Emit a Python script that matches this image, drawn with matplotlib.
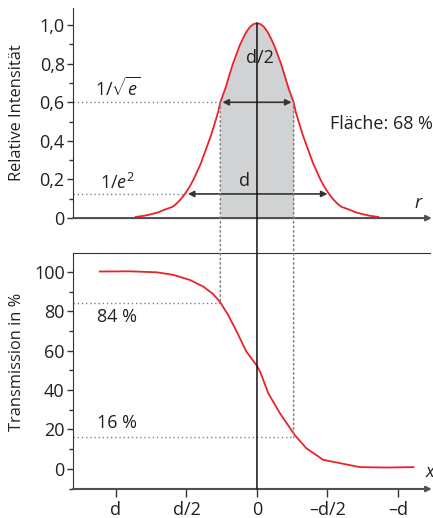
import matplotlib
matplotlib.use('Agg')
import matplotlib.pyplot as plt
from matplotlib.patches import ConnectionPatch
from matplotlib.ticker import MultipleLocator

plt.rcParams['font.family'] = ['Open Sans', 'DejaVu Sans']
plt.rcParams['mathtext.fontset'] = 'custom'
plt.rcParams['mathtext.rm'] = 'Open Sans'
plt.rcParams['mathtext.it'] = 'Open Sans:italic'

# positions in units of d/2 (left = +d side of the drawing)
gauss_x = [-1.72, -1.6, -1.5, -1.4, -1.3, -1.2, -1.15, -1.1, -1.05, -1.0, -0.95, -0.9, -0.85,
           -0.8, -0.75, -0.7, -0.65, -0.6, -0.55, -0.52, -0.45, -0.4, -0.35, -0.3, -0.25,
           -0.2, -0.15, -0.1, -0.05, 0.0, 0.05, 0.1, 0.15, 0.2, 0.25, 0.3, 0.35, 0.4, 0.45,
           0.52, 0.55, 0.6, 0.65, 0.7, 0.75, 0.8, 0.85, 0.9, 0.95, 1.0, 1.05, 1.1, 1.15,
           1.2, 1.3, 1.4, 1.5, 1.6, 1.72]
gauss_y = [0.006, 0.012, 0.02, 0.03, 0.045, 0.058, 0.072, 0.09, 0.111, 0.137, 0.166, 0.20, 0.24,
           0.28, 0.33, 0.38, 0.43, 0.49, 0.55, 0.60, 0.67, 0.73, 0.79, 0.84, 0.89,
           0.93, 0.965, 0.99, 1.005, 1.01, 1.005, 0.99, 0.965, 0.93, 0.89, 0.84, 0.79, 0.73, 0.67,
           0.60, 0.55, 0.49, 0.43, 0.38, 0.33, 0.28, 0.24, 0.20, 0.166, 0.137, 0.111, 0.09, 0.072,
           0.058, 0.045, 0.03, 0.02, 0.012, 0.006]

trans_x = [-2.23, -1.80, -1.42, -1.19, -0.95, -0.76, -0.62, -0.52, -0.41, -0.29, -0.15,
           0.0, 0.05, 0.16, 0.33, 0.54, 0.70, 0.94, 1.18, 1.46, 1.84, 2.22]
trans_y = [100.2, 100.3, 99.8, 98.5, 95.9, 92.5, 88.7, 84.5, 78.2, 69.9, 59.5,
           52.3, 48.9, 38.4, 28.0, 17.0, 10.5, 4.6, 2.9, 0.9, 0.7, 0.9]

x_ticks = [-2, -1, 0, 1, 2]
x_labels = ['d', 'd/2', '0', '\u2013d/2', '\u2013d']
half_width = 0.52      # 1/sqrt(e) points
level_top = 0.6
level_e2 = 0.125
t_hi, t_lo = 84, 16

red = '#e8232b'
axc = '#505050'
txt = '#231f20'
dot = (0, (1, 2))

fig = plt.figure(figsize=(4.33, 5.18), dpi=100)
ax1 = fig.add_axes([0.1686, 0.579, 0.8245, 0.4054])
ax2 = fig.add_axes([0.1686, 0.056, 0.8245, 0.4556])

xlim = (-2.61, 2.455)

# top: beam profile
ax1.set_xlim(*xlim)
ax1.set_ylim(0, 1.088)
ax1.fill_between(gauss_x, gauss_y, 0, where=[abs(v) <= half_width + 1e-9 for v in gauss_x],
                 color='#d1d2d4', lw=0)
ax1.plot(gauss_x, gauss_y, color=red, lw=1.3, zorder=3)
ax1.plot([xlim[0], -half_width], [level_top, level_top], color='#808080', lw=1, ls=dot, zorder=2)
ax1.plot([xlim[0], -1.0], [level_e2, level_e2], color='#808080', lw=1, ls=dot, zorder=2)
ax1.annotate('', xy=(half_width - 0.03, level_top), xytext=(-half_width + 0.03, level_top),
             arrowprops=dict(arrowstyle='<|-|>', color='#333333', lw=1.2, shrinkA=0, shrinkB=0,
                             mutation_scale=9))
ax1.annotate('', xy=(1.0, level_e2), xytext=(-0.98, level_e2),
             arrowprops=dict(arrowstyle='<|-|>', color='#333333', lw=1.2, shrinkA=0, shrinkB=0,
                             mutation_scale=9))
ax1.text(-1.97, 0.67, r'1/$\sqrt{e}$', fontsize=13, color=txt, ha='center', va='center')
ax1.text(-1.97, 0.18, r'1/$e^2$', fontsize=13, color=txt, ha='center', va='center')
ax1.text(0.04, 0.83, 'd/2', fontsize=13, color=txt, ha='center', va='center')
ax1.text(-0.17, 0.19, 'd', fontsize=13, color=txt, ha='center', va='center')
ax1.text(2.5, 0.49, 'Fläche: 68 %', fontsize=13, color=txt, ha='right', va='center')
ax1.text(2.28, 0.08, 'r', fontsize=13, style='italic', color=txt, ha='center', va='center')

ax1.set_ylabel('Relative Intensität', fontsize=11.8, color=txt)
ax1.yaxis.set_label_coords(-0.134, 0.5)
ax1.set_xticks([])
ax1.set_yticks([0, 0.2, 0.4, 0.6, 0.8, 1.0])
ax1.set_yticklabels(['0', '0,2', '0,4', '0,6', '0,8', '1,0'])
ax1.yaxis.set_minor_locator(MultipleLocator(0.1))
for s in ['top', 'right', 'bottom']:
    ax1.spines[s].set_visible(False)
ax1.spines['left'].set_color('#333333')
ax1.annotate('', xy=(1.005, 0), xytext=(0, 0), xycoords='axes fraction',
             arrowprops=dict(arrowstyle='-|>', color=axc, lw=1.5, shrinkA=0, shrinkB=0,
                             mutation_scale=8))

# bottom: transmission
ax2.set_xlim(*xlim)
ax2.set_ylim(-10.2, 109.6)
ax2.plot(trans_x, trans_y, color=red, lw=1.3, zorder=3)
ax2.plot([xlim[0], -half_width], [t_hi, t_hi], color='#808080', lw=1, ls=dot)
ax2.plot([xlim[0], half_width], [t_lo, t_lo], color='#808080', lw=1, ls=dot)
ax2.text(-1.99, 77, '84 %', fontsize=13, color=txt, ha='center', va='center')
ax2.text(-1.99, 23.4, '16 %', fontsize=13, color=txt, ha='center', va='center')
ax2.text(2.45, -1.5, 'x', fontsize=13, style='italic', color=txt, ha='center', va='center')

ax2.set_ylabel('Transmission in %', fontsize=11.8, color=txt)
ax2.yaxis.set_label_coords(-0.134, 0.54)
ax2.set_yticks([0, 20, 40, 60, 80, 100])
ax2.yaxis.set_minor_locator(MultipleLocator(10))
ax2.set_xticks(x_ticks)
ax2.set_xticklabels(x_labels)
ax2.spines['right'].set_visible(False)
ax2.spines['bottom'].set_visible(False)
ax2.spines['left'].set_color('#333333')
ax2.spines['top'].set_color('#333333')
ax2.annotate('', xy=(1.005, 0), xytext=(0, 0), xycoords='axes fraction',
             arrowprops=dict(arrowstyle='-|>', color=axc, lw=1.5, shrinkA=0, shrinkB=0,
                             mutation_scale=8))

for ax in (ax1, ax2):
    ax.tick_params(axis='y', which='major', length=4, width=1, color='#333333',
                   labelsize=13, labelcolor=txt, pad=2)
    ax.tick_params(axis='y', which='minor', length=3, width=1, color='#333333')
    ax.set_facecolor('none')
ax2.tick_params(axis='x', which='major', length=6, width=1, color='#333333',
                labelsize=13, labelcolor=txt, pad=3)

# lines linking both panels
links = [((0, 1.01), (0, -10.2), 'solid', '#111111'),
         ((-half_width, level_top), (-half_width, t_hi), dot, '#808080'),
         ((half_width, level_top), (half_width, t_lo), dot, '#808080')]
for (pa, pb, ls, c) in links:
    con = ConnectionPatch(xyA=pa, coordsA=ax1.transData, xyB=pb, coordsB=ax2.transData,
                          color=c, lw=1.1, linestyle=ls, zorder=2)
    fig.add_artist(con)

fig.savefig('out.png', dpi=100)
